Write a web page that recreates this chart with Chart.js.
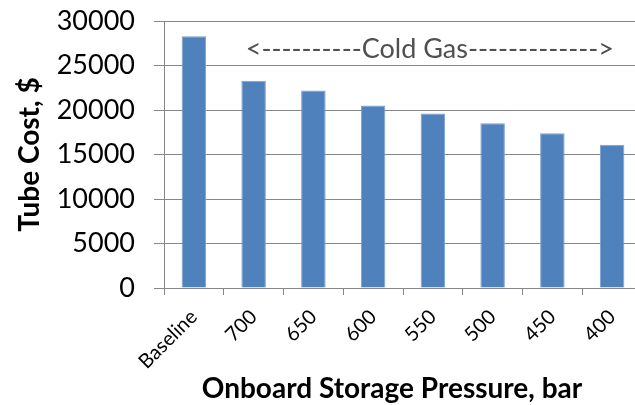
<!DOCTYPE html>
<html>
<head>
<meta charset="utf-8">
<style>
  html, body { margin: 0; padding: 0; background: #fff; overflow: hidden; width: 635px; height: 405px; }
  canvas { display: block; }
</style>
<script src="https://cdn.jsdelivr.net/npm/chart.js@4"></script>
</head>
<body>
<canvas id="c" width="645" height="405"></canvas>
<script>
// ---- data ----
const categories = ['Baseline', '700', '650', '600', '550', '500', '450', '400'];
const tubeCost = [28300, 23300, 22200, 20500, 19600, 18500, 17400, 16100];
const yTicks = [0, 5000, 10000, 15000, 20000, 25000, 30000];
const yTitle = 'Tube Cost, $';
const xTitle = 'Onboard Storage Pressure, bar';
const annotationText = '<----------Cold Gas------------->';
const annotationFrom = '700';
const annotationTo = '400';
const annotationValue = 26850;

const FONT = 'Lato, "Open Sans", sans-serif';
const GRID = '#878787';

const overlay = {
  id: 'overlay',
  afterDraw(chart) {
    const ctx = chart.ctx;
    const x = chart.scales.x, y = chart.scales.y;
    const ca = chart.chartArea;
    ctx.save();
    // annotation
    const cx = (x.getPixelForValue(categories.indexOf(annotationFrom)) + x.getPixelForValue(categories.indexOf(annotationTo))) / 2;
    ctx.font = '27px ' + FONT;
    ctx.fillStyle = '#505050';
    ctx.textAlign = 'center';
    ctx.textBaseline = 'middle';
    ctx.fillText(annotationText, cx - 3, y.getPixelForValue(annotationValue));
    // x title
    ctx.font = 'bold 28px ' + FONT;
    ctx.fillStyle = '#000';
    ctx.fillText(xTitle, ca.left + 228, ca.bottom + 101);
    ctx.restore();
  }
};

new Chart(document.getElementById('c'), {
  type: 'bar',
  data: {
    labels: categories,
    datasets: [{
      data: tubeCost,
      backgroundColor: '#4F81BD',
      borderColor: '#7CA0CF',
      borderWidth: 1,
      barPercentage: 0.41,
      categoryPercentage: 1.0
    }]
  },
  options: {
    responsive: false,
    devicePixelRatio: 1,
    animation: false,
    layout: { padding: { left: 0, right: 3, top: 21, bottom: 0 } },
    plugins: { legend: { display: false }, tooltip: { enabled: false } },
    scales: {
      x: {
        grid: { offset: true, drawOnChartArea: false, drawTicks: true, tickLength: 7, color: GRID, lineWidth: 1 },
        border: { color: GRID, width: 1 },
        ticks: {
          color: '#000',
          font: { family: FONT, size: 20 },
          minRotation: 45, maxRotation: 45,
          padding: 10,
          autoSkip: false
        },
        afterFit(scale) { scale.height = 117; }
      },
      y: {
        min: 0, max: 30000,
        afterBuildTicks(scale) { scale.ticks = yTicks.map(v => ({ value: v })); },
        grid: { drawTicks: true, tickLength: 10, color: GRID, lineWidth: 1 },
        border: { color: GRID, width: 1 },
        ticks: {
          color: '#000',
          font: { family: FONT, size: 27 },
          padding: 19,
          callback: (v) => String(v)
        },
        title: {
          display: true,
          text: yTitle,
          color: '#000',
          font: { family: FONT, size: 28, weight: 'bold', lineHeight: 1 },
          padding: { top: 16, bottom: 0 }
        },
        afterFit(scale) {
          scale.width = 164;
          scale.paddingTop = 0;
          scale.paddingBottom = 0;
        }
      }
    }
  },
  plugins: [overlay]
});
</script>
</body>
</html>
